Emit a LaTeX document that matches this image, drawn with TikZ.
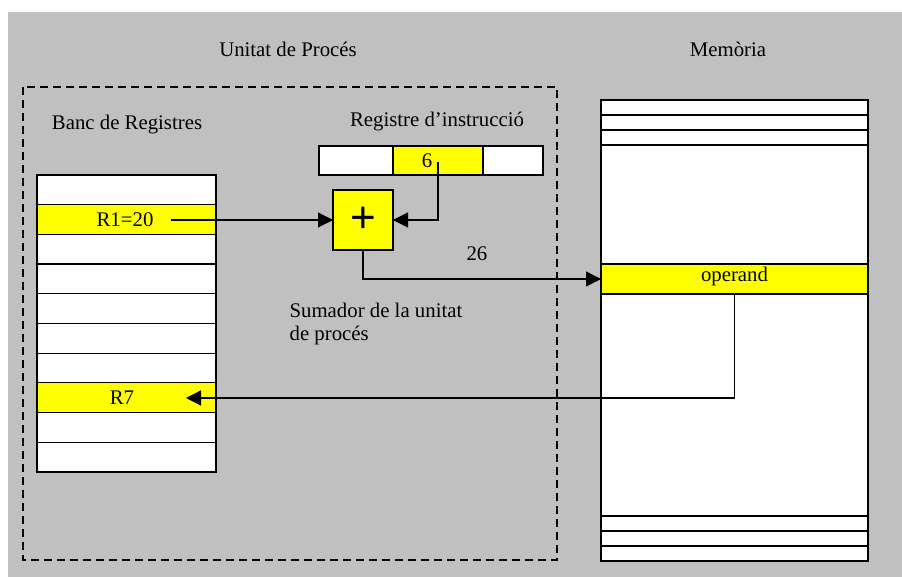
\documentclass[tikz,border=0pt]{standalone}
\usepackage{fontspec}
\setmainfont{Liberation Serif}
\newfontfamily\plusfont{Liberation Sans}
\usetikzlibrary{arrows.meta,fit}
\definecolor{panelgray}{HTML}{C0C0C0}
\definecolor{hiyellow}{HTML}{FFFF00}
\begin{document}
\begin{tikzpicture}[x=0.5pt,y=-0.5pt,line width=0.6pt,
  txt/.style={font=\fontsize{10.4}{11.6}\selectfont,inner sep=0pt},
  wcell/.style={draw,fill=white,inner sep=0pt,outer sep=0pt,fit={#1}},
  ycell/.style={wcell={#1},fill=hiyellow},
  mcell/.style={wcell={#1},line width=0.75pt},
  unitbox/.style={draw,line width=1pt,dash pattern=on 4pt off 2.5pt},
  arr/.style={-{Triangle[length=7.5pt,width=7.5pt]},line width=0.6pt}]
\useasboundingbox (0,0) rectangle (902,577);
\fill[panelgray] (8,12) rectangle (902,577);

% processing unit outline
\draw[unitbox] (23,87) rectangle (557,560);

% titles
\node[txt] (tunit) at (288,49) {Unitat de Procés};
\node[txt] (tmem) at (728,49) {Memòria};
\node[txt] (tbanc) at (127,125) {Banc de Registres};
\node[txt] (tir) at (437,122) {Registre d'instrucció};

% register bank
\node[wcell={(37,175) (216,204.7)}] (reg0) {};
\node[ycell={(37,204.7) (216,234.4)}] (reg1) {};
\node[wcell={(37,234.4) (216,264.1)}] (reg2) {};
\node[wcell={(37,264.1) (216,293.8)}] (reg3) {};
\node[wcell={(37,293.8) (216,323.5)}] (reg4) {};
\node[wcell={(37,323.5) (216,353.2)}] (reg5) {};
\node[wcell={(37,353.2) (216,382.9)}] (reg6) {};
\node[ycell={(37,382.9) (216,412.6)}] (reg7) {};
\node[wcell={(37,412.6) (216,442.3)}] (reg8) {};
\node[wcell={(37,442.3) (216,472)}] (reg9) {};
\node[txt] (r1txt) at (125,220) {R1=20};
\node[txt] (r7txt) at (122,398) {R7};

% instruction register
\node[wcell={(319,146) (393,175)}] (ira) {};
\node[ycell={(393,146) (483,175)}] (irb) {};
\node[wcell={(483,146) (543,175)}] (irc) {};
\node[txt] (six) at (427,161) {6};

% adder
\node[ycell={(333,190) (393,250)}] (adder) {};
\node[inner sep=0pt,font=\plusfont\fontsize{22}{22}\selectfont] (plus) at (adder.center) {+};

% memory
\node[mcell={(601,100) (868,115)}] (mem1) {};
\node[mcell={(601,115) (868,130)}] (mem2) {};
\node[mcell={(601,130) (868,145)}] (mem3) {};
\node[mcell={(601,145) (868,264)}] (mem4) {};
\node[mcell={(601,264) (868,294)},fill=hiyellow] (operand) {};
\node[mcell={(601,294) (868,516)}] (mem6) {};
\node[mcell={(601,516) (868,531)}] (mem7) {};
\node[mcell={(601,531) (868,546)}] (mem8) {};
\node[mcell={(601,546) (868,561)}] (mem9) {};
\node[txt] (optxt) at (734.5,277) {operand};

% labels
\node[txt] (t26) at (477,254) {26};
\node[txt,align=left,anchor=north west] (tsum) at (289,302) {Sumador de la unitat\\de procés};

% data paths
\coordinate (r1tail) at (171,220);
\coordinate (sixtail) at (438,162);
\coordinate (r7tip) at (186,398);
\draw[arr] (r1tail) -- (adder.west);
\draw[arr] (sixtail) |- (adder.east);
\draw[arr] (adder.south) |- (operand.west);
\draw[arr] (operand.south) |- (r7tip);
\end{tikzpicture}
\end{document}
